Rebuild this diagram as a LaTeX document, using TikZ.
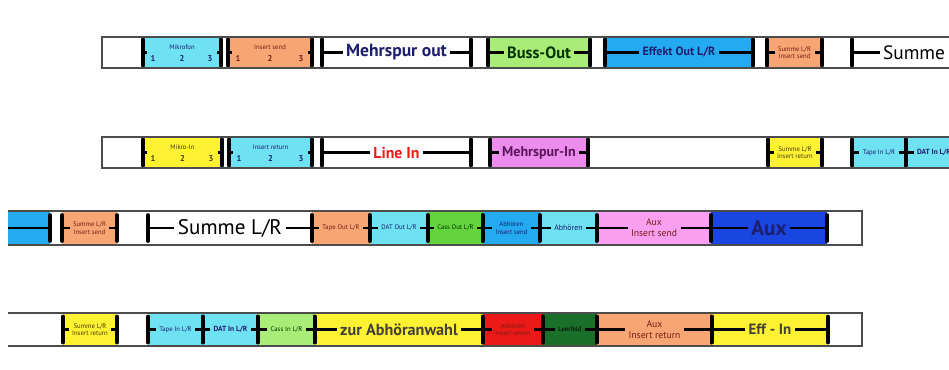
\documentclass[tikz,border=0pt]{standalone}
\usepackage{fontspec}
\setmainfont{PT Sans}
\definecolor{cyanf}{RGB}{110,225,242}
\definecolor{orangef}{RGB}{246,165,115}
\definecolor{gruenf}{RGB}{170,236,120}
\definecolor{blauf}{RGB}{35,170,240}
\definecolor{gelbf}{RGB}{255,242,50}
\definecolor{lilaf}{RGB}{236,140,236}
\definecolor{rosaf}{RGB}{250,158,240}
\definecolor{dunkelblauf}{RGB}{25,70,225}
\definecolor{kassgruen}{RGB}{100,212,60}
\definecolor{rotf}{RGB}{236,25,25}
\definecolor{dunkelgruen}{RGB}{25,112,42}
\definecolor{marine}{RGB}{30,30,110}
\definecolor{braun}{RGB}{120,30,20}
\definecolor{oliv}{RGB}{70,60,10}
\definecolor{purpur}{RGB}{90,20,90}

\newcommand\feld[7]{%
  \fill[#5] (#2,#4-16) rectangle (#3,#4+16);
  \node[txt,#6] (#1) at ({(#2+#3)/2},#4) {#7};
  \coordinate (#1-l) at (#2,#4);
  \coordinate (#1-r) at (#3,#4);
  \draw[lead] (#1-l) -- (#1.west);
  \draw[lead] (#1.east) -- (#1-r);
  \draw[bar] (#2,#4-13) -- (#2,#4+13);
  \draw[bar] (#3,#4-13) -- (#3,#4+13);
}
\newcommand\kanal[7]{%
  \fill[#5] (#2,#4-16) rectangle (#3,#4+16);
  \node[txt,mini,#6] (#1) at ({(#2+#3)/2},#4-5) {#7};
  \node[txt,ziffer,#6] (#1-eins) at (#2+10,#4+6) {1};
  \node[txt,ziffer,#6] (#1-zwei) at ({(#2+#3)/2},#4+6) {2};
  \node[txt,ziffer,#6] (#1-drei) at (#3-11,#4+6) {3};
  \draw[bar] (#2,#4-13) -- (#2,#4+13);
  \draw[bar] (#3,#4-13) -- (#3,#4+13);
  \draw[lead] (#2,#4) -- ++(4,0);
  \draw[lead] (#3,#4) -- ++(-4,0);
}

\begin{document}
\begin{tikzpicture}[x=0.02cm,y=-0.02cm,
    txt/.style={inner sep=1.8pt,align=center},
    mini/.style={font=\fontsize{3.8}{4.2}\selectfont},
    ziffer/.style={font=\fontsize{4.8}{5}\selectfont\bfseries},
    gross/.style={font=\fontsize{10}{12}\selectfont\bfseries},
    lead/.style={line width=1.4pt},
    bar/.style={line width=2.1pt,line cap=round},
    rand/.style={draw=black!70,line width=0.6pt}]
  \useasboundingbox (0,0) rectangle (949,369);
  \clip (0,0) rectangle (949,369);
  \fill[white] (0,0) rectangle (949,369);

  \kanal{mikrofon}{143}{221}{52.5}{cyanf}{text=marine}{Mikrofon}
  \kanal{insertsend}{228}{312}{52.5}{orangef}{text=braun}{Insert send}
  \feld{mehrspurout}{322}{471}{52.5}{white}{gross,text=marine}{Mehrspur out}
  \feld{bussout}{488}{590}{52.5}{gruenf}{font=\fontsize{9.3}{11}\selectfont\bfseries,text=black!80!green}{Buss-Out}
  \feld{effektout}{605}{753}{52.5}{blauf}{font=\fontsize{6.8}{8}\selectfont\bfseries,text=marine}{Effekt Out L/R}
  \feld{summesend}{767}{822}{52.5}{orangef}{mini,text=braun}{Summe L/R\\Insert send}
  \node[txt,font=\fontsize{11}{13}\selectfont] (summe) at (914,52.5) {Summe};
  \coordinate (summe-l) at (852,52.5);
  \draw[lead] (summe-l) -- (summe.west);
  \draw[bar] (852,39.5) -- (852,65.5);
  \draw[rand] (1000,37) -- (102,37) -- (102,68) -- (1000,68);

  \kanal{mikroin}{143}{222}{152.5}{gelbf}{text=oliv}{Mikro-In}
  \kanal{insertreturn}{229}{312}{152.5}{cyanf}{text=marine}{Insert return}
  \feld{linein}{322}{471}{152.5}{white}{font=\fontsize{9}{11}\selectfont\bfseries,text=rotf}{Line In}
  \feld{mehrspurin}{490}{588}{152.5}{lilaf}{font=\fontsize{8}{9}\selectfont\bfseries,text=purpur}{Mehrspur-In}
  \feld{summereturn}{768}{822}{152.5}{gelbf}{mini,text=oliv}{Summe L/R\\Insert return}
  \feld{tapein}{852}{906}{152.5}{cyanf}{mini,text=marine}{Tape In L/R}
  \feld{datin}{906}{962}{152.5}{cyanf}{font=\fontsize{4.2}{5}\selectfont\bfseries,text=marine}{DAT In L/R}
  \draw[rand] (1000,137) -- (102,137) -- (102,168) -- (1000,168);

  \fill[blauf] (8,212) rectangle (50,244);
  \coordinate (blau-l) at (8,228);
  \coordinate (blau-r) at (50,228);
  \draw[lead] (blau-l) -- (blau-r);
  \draw[bar] (50,215) -- (50,241);
  \feld{summesendb}{62}{117}{228}{orangef}{mini,text=braun}{Summe L/R\\Insert send}
  \feld{summelr}{148}{312}{228}{white}{font=\fontsize{12}{14}\selectfont}{Summe L/R}
  \feld{tapeout}{312}{370}{228}{orangef}{mini,text=braun}{Tape Out L/R}
  \feld{datout}{370}{428}{228}{cyanf}{mini,text=marine}{DAT Out L/R}
  \feld{cassout}{428}{483}{228}{kassgruen}{mini,text=black!80!green}{Cass Out L/R}
  \feld{abhsend}{483}{540}{228}{blauf}{mini,text=marine}{Abhören\\Insert send}
  \feld{abhoeren}{540}{597}{228}{cyanf}{font=\fontsize{4.5}{5}\selectfont,text=marine}{Abhören}
  \feld{auxsend}{597}{711}{228}{rosaf}{font=\fontsize{5.5}{6.2}\selectfont,text=braun}{Aux\\Insert send}
  \feld{aux}{711}{827}{228}{dunkelblauf}{font=\fontsize{12}{14}\selectfont\bfseries,text=marine}{Aux}
  \draw[rand] (8,211) -- (862,211) -- (862,245) -- (8,245);

  \feld{summereturnb}{63}{117}{329.5}{gelbf}{mini,text=oliv}{Summe L/R\\Insert return}
  \feld{tapeinb}{148}{203}{329.5}{cyanf}{mini,text=marine}{Tape In L/R}
  \feld{datinb}{203}{258}{329.5}{cyanf}{font=\fontsize{4.2}{5}\selectfont\bfseries,text=marine}{DAT In L/R}
  \feld{cassin}{258}{315}{329.5}{gruenf}{mini,text=black!80!green}{Cass In L/R}
  \feld{abhwahl}{315}{483}{329.5}{gelbf}{font=\fontsize{9.2}{11}\selectfont\bfseries,text=black!85!yellow}{zur Abhöranwahl}
  \feld{abhreturn}{483}{543}{329.5}{rotf}{mini,text=braun}{Abhören\\Insert return}
  \feld{leer}{543}{597}{329.5}{dunkelgruen}{mini,text=black}{Leerfeld}
  \feld{auxreturn}{597}{712}{329.5}{orangef}{font=\fontsize{5.5}{6.2}\selectfont,text=braun}{Aux\\Insert return}
  \feld{effin}{712}{828}{329.5}{gelbf}{font=\fontsize{8.5}{10}\selectfont\bfseries,text=black!85!yellow}{Eff - In}
  \draw[rand] (8,313) -- (862,313) -- (862,346) -- (8,346);
\end{tikzpicture}
\end{document}
